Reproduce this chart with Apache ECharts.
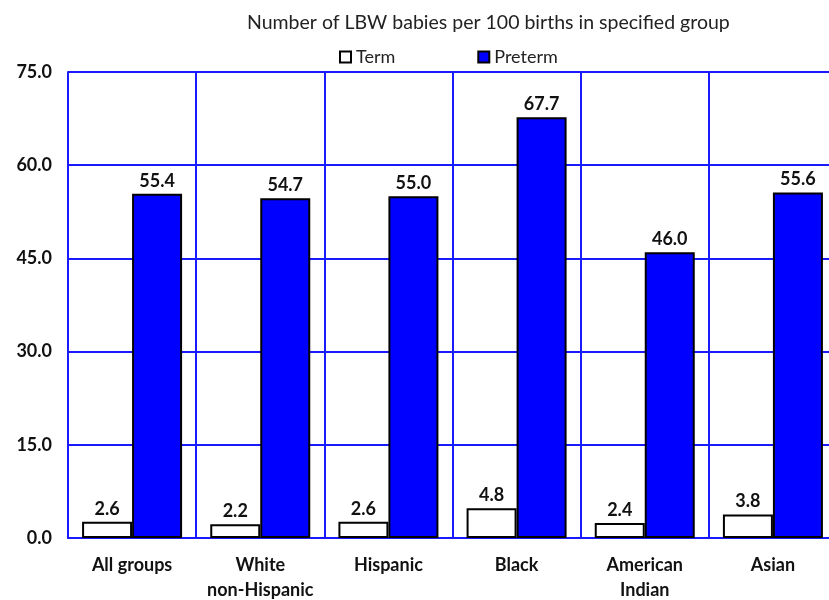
<!DOCTYPE html>
<html>
<head>
<meta charset="utf-8">
<script src="https://cdn.jsdelivr.net/npm/echarts@6/dist/echarts.min.js"></script>
<style>
  html, body { margin: 0; padding: 0; background: #fff; }
  #chart { width: 829px; height: 600px; }
</style>
</head>
<body>
<div id="chart"></div>
<script>
const groups = ['All groups', 'White\nnon-Hispanic', 'Hispanic', 'Black', 'American\nIndian', 'Asian'];
const termValues = [2.6, 2.2, 2.6, 4.8, 2.4, 3.8];
const pretermValues = [55.4, 54.7, 55.0, 67.7, 46.0, 55.6];
const yTicks = { min: 0, max: 75, interval: 15 };

const fontFam = 'Lato, "Open Sans", sans-serif';
const gridBlue = '#1a1aff';

const chart = echarts.init(document.getElementById('chart'));
chart.setOption({
  animation: false,
  title: {
    text: 'Number of LBW babies per 100 births in specified group',
    left: 242, top: 8,
    textStyle: { fontFamily: fontFam, fontSize: 19.5, fontWeight: 'normal', color: '#222' }
  },
  legend: {
    top: 43, left: 334,
    itemGap: 82, itemWidth: 11, itemHeight: 11,
    textStyle: { fontFamily: fontFam, fontSize: 18, color: '#222' },
    data: [
      { name: 'Term', icon: 'rect', itemStyle: { color: '#fff', borderColor: '#000', borderWidth: 2 } },
      { name: 'Preterm', icon: 'rect', itemStyle: { color: '#0000ff', borderColor: '#000', borderWidth: 2 } }
    ]
  },
  grid: { left: 68, right: -8, top: 72, bottom: 62, outerBoundsMode: 'none' },
  xAxis: {
    type: 'category',
    data: groups,
    axisTick: { show: false },
    axisLine: { lineStyle: { color: gridBlue, width: 2 } },
    splitLine: { show: true, interval: 0, lineStyle: { color: gridBlue, width: 2 } },
    axisLabel: {
      interval: 0,
      fontFamily: fontFam, fontSize: 18, fontWeight: 'bold', color: '#111',
      margin: 15, lineHeight: 25
    }
  },
  yAxis: {
    type: 'value',
    min: yTicks.min, max: yTicks.max, interval: yTicks.interval,
    axisLine: { show: true, lineStyle: { color: gridBlue, width: 2 } },
    axisTick: { show: false },
    splitLine: { lineStyle: { color: gridBlue, width: 2 } },
    axisLabel: {
      fontFamily: fontFam, fontSize: 18, fontWeight: 'bold', color: '#111',
      margin: 16, formatter: v => v.toFixed(1)
    }
  },
  series: [
    {
      name: 'Term', type: 'bar', data: termValues,
      barWidth: 50, barGap: '0%',
      itemStyle: { color: '#fff', borderColor: '#000', borderWidth: 2 },
      label: {
        show: true, position: 'top', distance: 4,
        fontFamily: fontFam, fontSize: 18, fontWeight: 'bold', color: '#111',
        formatter: p => p.value.toFixed(1)
      }
    },
    {
      name: 'Preterm', type: 'bar', data: pretermValues,
      barWidth: 50,
      itemStyle: { color: '#0000ff', borderColor: '#000', borderWidth: 2 },
      label: {
        show: true, position: 'top', distance: 4,
        fontFamily: fontFam, fontSize: 18, fontWeight: 'bold', color: '#111',
        formatter: p => p.value.toFixed(1)
      }
    }
  ]
});
</script>
</body>
</html>
